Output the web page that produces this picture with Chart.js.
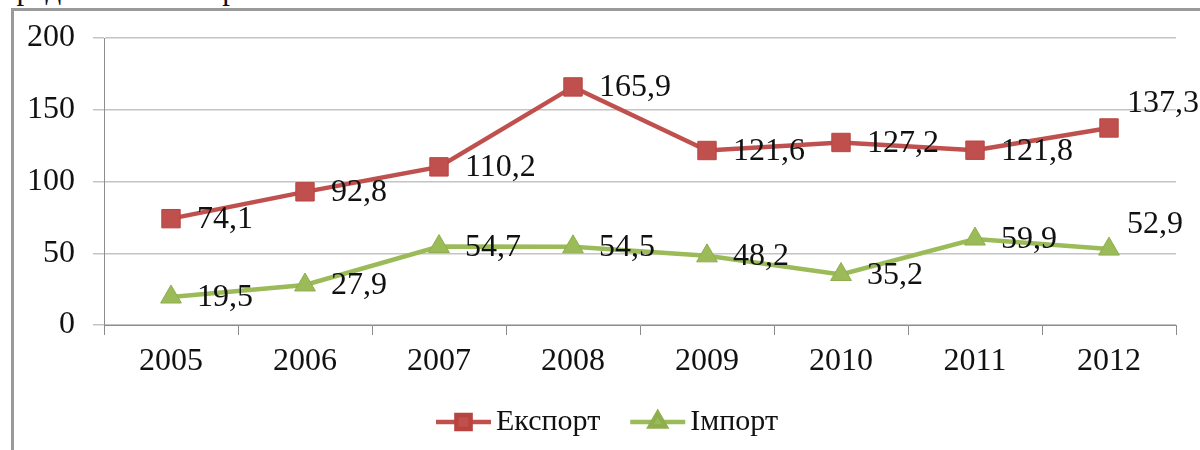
<!DOCTYPE html>
<html>
<head>
<meta charset="utf-8">
<script src="https://cdn.jsdelivr.net/npm/chart.js@4.4.0/dist/chart.umd.min.js"></script>
<style>
    html, body { margin: 0; padding: 0; background: #fff; overflow: hidden; }
    #wrap { position: relative; width: 1200px; height: 450px; overflow: hidden; }
    #caption {
        position: absolute; left: 0; top: -29px; white-space: nowrap;
        font: 31px "Liberation Serif", serif; color: #111;
    }
    #frame {
        position: absolute; left: 11px; top: 8px; width: 1400px; height: 600px;
        border: 3px solid #9a9a9a; box-sizing: border-box;
    }
    #chart { position: absolute; left: 0; top: 0; }
</style>
</head>
<body>
<div id="wrap">
    <div id="caption">представлена на рис. 3.</div>
    <div id="frame"></div>
    <canvas id="chart" width="1200" height="450"></canvas>
</div>
<script>
// --- Data ---
const years = ['2005', '2006', '2007', '2008', '2009', '2010', '2011', '2012'];
const exportValues = [74.1, 92.8, 110.2, 165.9, 121.6, 127.2, 121.8, 137.3];
const importValues = [19.5, 27.9, 54.7, 54.5, 48.2, 35.2, 59.9, 52.9];
const seriesNames = ['Експорт', 'Імпорт'];
const yTicks = [0, 50, 100, 150, 200];

const FONT = '"Liberation Serif", "Times New Roman", serif';
const FONT_SIZE = 32;
const RED = '#c0504d';
const GREEN = '#9bbb59';

function fmt(v) {
    return v.toFixed(1).replace('.', ',');
}

// --- Value labels to the right of each point (last one raised, as in Excel) ---
const valueLabels = {
    id: 'valueLabels',
    afterDatasetsDraw(chart) {
        const { ctx } = chart;
        ctx.save();
        ctx.font = FONT_SIZE + 'px ' + FONT;
        ctx.fillStyle = '#111';
        ctx.textAlign = 'left';
        ctx.textBaseline = 'middle';
        chart.data.datasets.forEach((ds, i) => {
            const meta = chart.getDatasetMeta(i);
            meta.data.forEach((pt, j) => {
                const last = j === meta.data.length - 1;
                const dx = last ? 18 : 26;
                const dy = last ? -24 : 1;
                ctx.fillText(fmt(ds.data[j]), pt.x + dx, pt.y + dy);
            });
        });
        ctx.restore();
    }
};

// --- Excel-like legend: line with marker, then the name ---
const lineLegend = {
    id: 'lineLegend',
    afterDraw(chart) {
        const { ctx } = chart;
        const lineLen = 55, gapText = 5, gapItem = 30, y = 422;
        ctx.save();
        ctx.font = '30px ' + FONT;
        const widths = chart.data.datasets.map(ds => lineLen + gapText + ctx.measureText(ds.label).width);
        const total = widths.reduce((s, w) => s + w, 0) + gapItem * (widths.length - 1);
        let x = chart.width / 2 + 7 - total / 2;
        chart.data.datasets.forEach((ds, i) => {
            ctx.strokeStyle = ds.borderColor;
            ctx.lineWidth = 4.5;
            ctx.beginPath();
            ctx.moveTo(x, y);
            ctx.lineTo(x + lineLen, y);
            ctx.stroke();
            ctx.fillStyle = ds.pointBackgroundColor;
            ctx.strokeStyle = ds.pointBorderColor;
            Chart.helpers.drawPoint(ctx, {
                pointStyle: ds.pointStyle,
                radius: ds.pointStyle === 'rect' ? 10 : 9,
                rotation: 0,
                borderWidth: 1
            }, x + lineLen / 2, y);
            ctx.fillStyle = '#111';
            ctx.textAlign = 'left';
            ctx.textBaseline = 'middle';
            ctx.fillText(ds.label, x + lineLen + gapText, y);
            x += widths[i] + gapItem;
        });
        ctx.restore();
    }
};

const ctx = document.getElementById('chart').getContext('2d');
new Chart(ctx, {
    type: 'line',
    data: {
        labels: years,
        datasets: [{
            label: seriesNames[0],
            data: exportValues,
            borderColor: RED,
            borderWidth: 4.5,
            pointStyle: 'rect',
            pointRadius: 13,
            pointBackgroundColor: RED,
            pointBorderColor: '#b9443f',
            pointBorderWidth: 1,
            tension: 0
        }, {
            label: seriesNames[1],
            data: importValues,
            borderColor: GREEN,
            borderWidth: 4.5,
            pointStyle: 'triangle',
            pointRadius: 12,
            pointBackgroundColor: GREEN,
            pointBorderColor: '#8fae4f',
            pointBorderWidth: 1,
            tension: 0
        }]
    },
    options: {
        responsive: false,
        animation: false,
        layout: { padding: { left: 0, top: 38, right: 24, bottom: 0 } },
        plugins: {
            legend: { display: false },
            tooltip: { enabled: false }
        },
        scales: {
            x: {
                offset: true,
                grid: {
                    offset: true,
                    drawOnChartArea: false,
                    drawTicks: true,
                    tickLength: 10,
                    color: '#8c8c8c',
                    lineWidth: 1
                },
                border: { display: true, color: '#8c8c8c', width: 1 },
                ticks: {
                    font: { family: FONT, size: FONT_SIZE },
                    color: '#111',
                    padding: 7,
                    maxRotation: 0
                },
                afterFit(scale) { scale.height = 125; }
            },
            y: {
                min: yTicks[0],
                max: yTicks[yTicks.length - 1],
                afterBuildTicks(scale) {
                    scale.ticks = yTicks.map(v => ({ value: v }));
                },
                grid: {
                    color: '#c4c4c4',
                    lineWidth: 1.5,
                    tickLength: 11,
                    drawTicks: true
                },
                border: { display: true, color: '#8c8c8c', width: 1 },
                ticks: {
                    font: { family: FONT, size: FONT_SIZE },
                    color: '#111',
                    padding: 18
                },
                afterFit(scale) { scale.width = 104; }
            }
        }
    },
    plugins: [valueLabels, lineLegend]
});
</script>
</body>
</html>
